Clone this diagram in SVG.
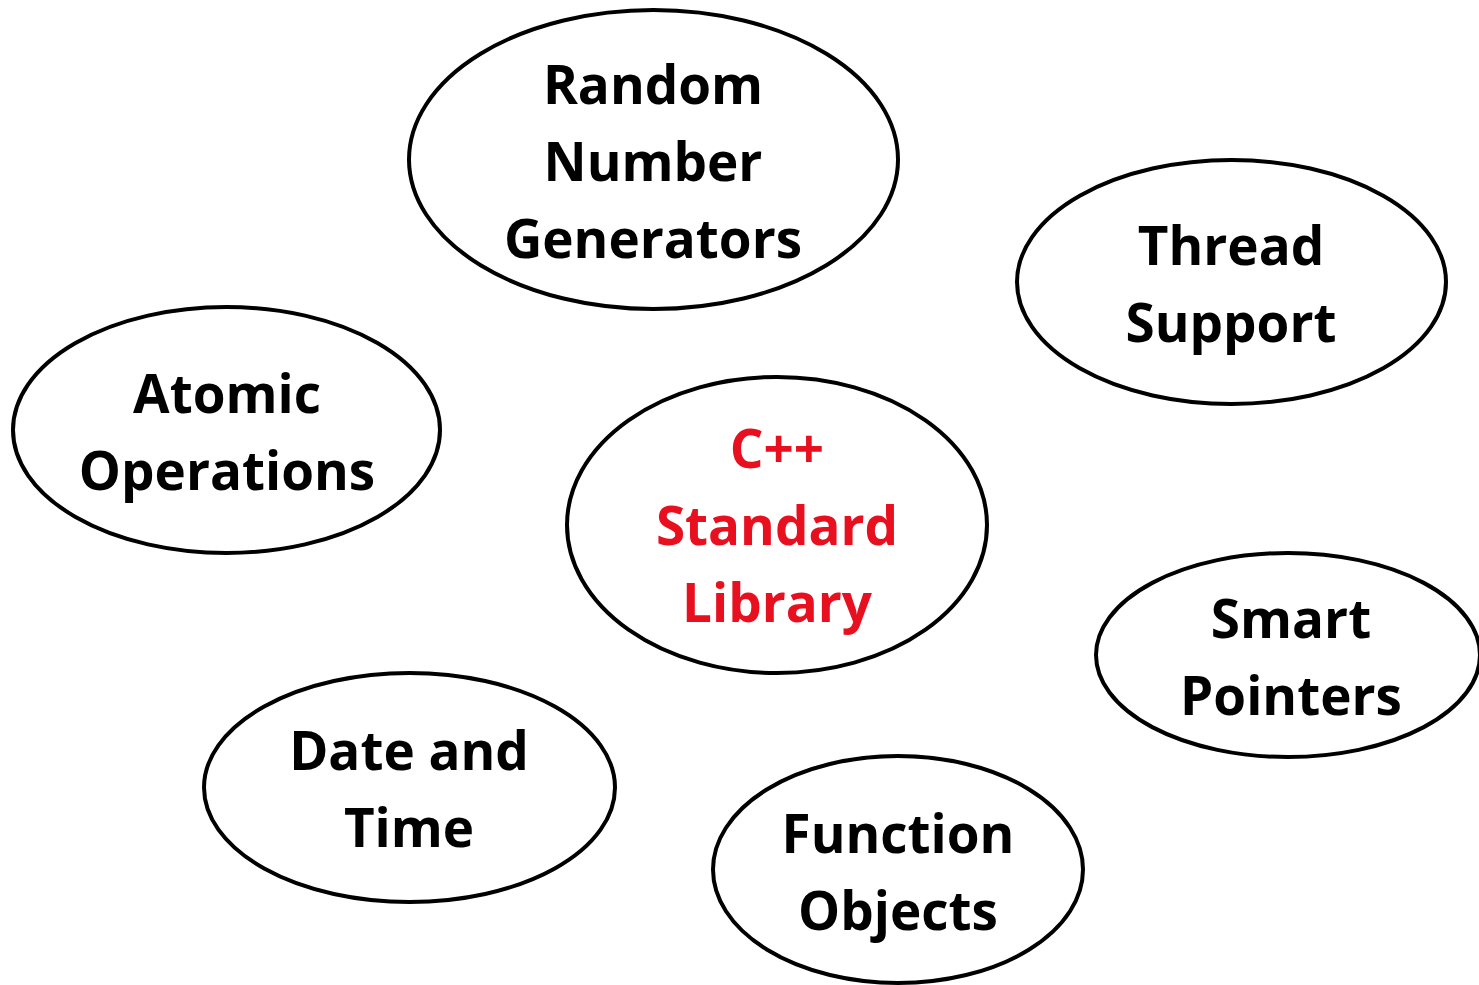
<svg xmlns="http://www.w3.org/2000/svg" width="1479" height="985" viewBox="0 0 1479 985">
<style>
.n{fill:#fff;stroke:#000;stroke-width:4}
.t{font-family:"Open Sans","Liberation Sans",sans-serif;font-weight:bold;font-size:53px;text-anchor:middle;fill:#000}
.r{fill:#e8101f}
</style>
<rect width="1479" height="985" fill="#fff"/>
<g id="connectors"></g>
<g id="random">
<ellipse class="n" cx="653.5" cy="159.5" rx="244.5" ry="149.5"/>
<text class="t"><tspan x="653" y="104">Random</tspan><tspan x="653" y="181">Number</tspan><tspan x="653" y="258">Generators</tspan></text>
</g>
<g id="thread">
<ellipse class="n" cx="1231.5" cy="282" rx="214.5" ry="122"/>
<text class="t"><tspan x="1231" y="265">Thread</tspan><tspan x="1231" y="342">Support</tspan></text>
</g>
<g id="atomic">
<ellipse class="n" cx="226.5" cy="430" rx="213.5" ry="123"/>
<text class="t"><tspan x="227" y="413">Atomic</tspan><tspan x="227" y="490">Operations</tspan></text>
</g>
<g id="stdlib">
<ellipse class="n" cx="777" cy="525" rx="210" ry="148"/>
<text class="t r"><tspan x="777" y="468">C++</tspan><tspan x="777" y="545">Standard</tspan><tspan x="777" y="622">Library</tspan></text>
</g>
<g id="smart">
<ellipse class="n" cx="1288" cy="655" rx="192" ry="102"/>
<text class="t"><tspan x="1291" y="638">Smart</tspan><tspan x="1291" y="715">Pointers</tspan></text>
</g>
<g id="datetime">
<ellipse class="n" cx="409.5" cy="787.5" rx="205.5" ry="114.5"/>
<text class="t"><tspan x="409" y="770">Date and</tspan><tspan x="409" y="847">Time</tspan></text>
</g>
<g id="function">
<ellipse class="n" cx="898" cy="869.5" rx="185" ry="113.5"/>
<text class="t"><tspan x="898" y="853">Function</tspan><tspan x="898" y="930">Objects</tspan></text>
</g>
</svg>
